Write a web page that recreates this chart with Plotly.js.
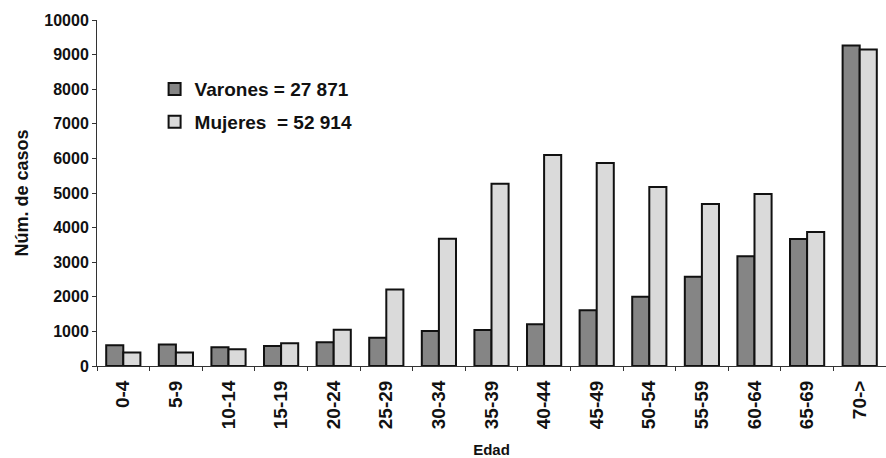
<!DOCTYPE html>
<html>
<head>
<meta charset="utf-8">
<script src="https://cdn.plot.ly/plotly-3.0.1.min.js"></script>
<style>html,body{margin:0;padding:0;background:#fff;}#chart{width:886px;height:458px;}</style>
</head>
<body>
<div id="chart"></div>
<script>
const categories = ["0-4","5-9","10-14","15-19","20-24","25-29","30-34","35-39","40-44","45-49","50-54","55-59","60-64","65-69","70->"];
const varones = [600, 620, 540, 580, 690, 820, 1010, 1040, 1210, 1610, 2000, 2580, 3170, 3670, 9260];
const mujeres = [390, 390, 485, 660, 1050, 2210, 3680, 5270, 6100, 5870, 5170, 4680, 4970, 3870, 9150];
const totalVarones = "27 871";
const totalMujeres = "52 914";
const yTicks = [0,1000,2000,3000,4000,5000,6000,7000,8000,9000,10000];

const fontFam = "Liberation Sans, Arial, sans-serif";

const data = [
  {type:"bar", x:categories, y:varones, name:"Varones = " + totalVarones, legendgroup:"v",
   marker:{color:"#858585", line:{color:"#111", width:2}}},
  {type:"bar", x:categories, y:mujeres, name:"Mujeres\u00a0 = " + totalMujeres, legendgroup:"m",
   marker:{color:"#dadada", line:{color:"#111", width:2}}}
];

const layout = {
  width:886, height:458,
  margin:{l:97, r:0, t:20, b:92},
  paper_bgcolor:"#fff", plot_bgcolor:"#fff",
  barmode:"group", bargap:0.35, bargroupgap:0,
  showlegend:true,
  legend:{x:0.073, y:0.855, xanchor:"left", yanchor:"top", bgcolor:"rgba(0,0,0,0)",
          font:{family:fontFam, size:19, color:"#111", weight:"bold"},
          traceorder:"grouped", tracegroupgap:5, itemwidth:30},
  font:{family:fontFam, color:"#111"},
  xaxis:{type:"category", tickson:"boundaries", ticks:"outside", ticklen:4, tickcolor:"#333",
         showline:true, linecolor:"#333", linewidth:1, showgrid:false, zeroline:false,
         tickangle:-90, ticklabelstandoff:6, tickfont:{family:fontFam, size:19, color:"#111", weight:"bold"},
         title:{text:"Edad", font:{family:fontFam, size:15, color:"#111", weight:"bold"}, standoff:16}},
  yaxis:{range:[0,10000], tickvals:yTicks, ticktext:yTicks.map(String), ticks:"outside", ticklen:4, tickcolor:"#333",
         showline:true, linecolor:"#333", linewidth:1, showgrid:false, zeroline:false,
         tickfont:{family:fontFam, size:16, color:"#111", weight:"bold"},
         title:{text:"Núm. de casos", font:{family:fontFam, size:18, color:"#111", weight:"bold"}, standoff:10}}
};

Plotly.newPlot("chart", data, layout, {displayModeBar:false, staticPlot:true});
</script>
</body>
</html>
